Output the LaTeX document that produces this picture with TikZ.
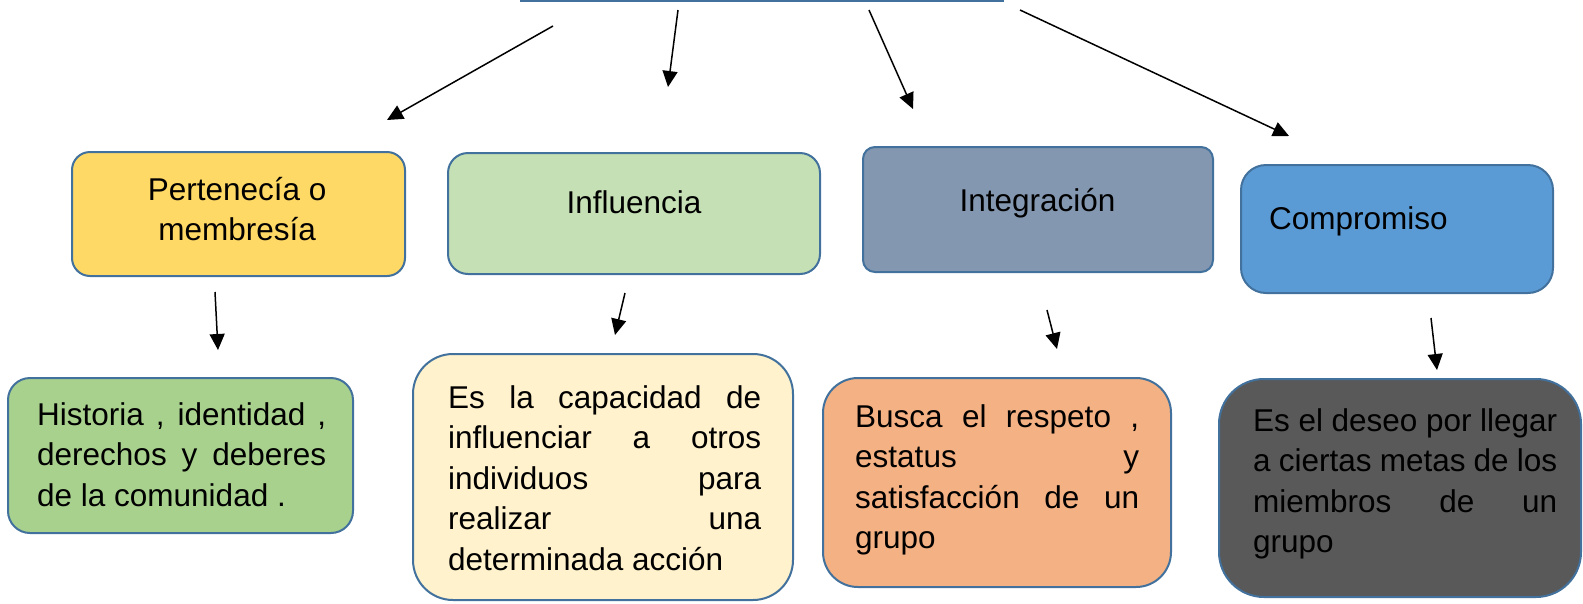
\documentclass[tikz,border=0pt]{standalone}
\usepackage{fontspec}
\setmainfont{Liberation Sans}
\usetikzlibrary{arrows.meta}
\definecolor{bordc}{HTML}{41719C}
\definecolor{cA}{HTML}{FFD966}
\definecolor{cB}{HTML}{C5E0B4}
\definecolor{cC}{HTML}{8497B0}
\definecolor{cD}{HTML}{5B9BD5}
\definecolor{cE}{HTML}{A9D18E}
\definecolor{cF}{HTML}{FFF2CC}
\definecolor{cG}{HTML}{F4B183}
\definecolor{cH}{HTML}{595959}
\newcommand{\jl}[1]{\makebox[\linewidth][s]{#1}}
\tikzset{
  box/.style={draw=bordc, line width=2pt, inner sep=0pt},
  conn/.style={-{Triangle[length=16pt,width=15pt]}, line width=1.5pt, black},
  txt/.style={inner sep=0pt, anchor=base west, font=\fontsize{31.5}{40.5}\selectfont},
  ctxt/.style={inner sep=0pt, anchor=base, font=\fontsize{31.5}{38}\selectfont},
}
\begin{document}
\begin{tikzpicture}[x=1pt,y=-1pt]
\useasboundingbox (0,0) rectangle (1583,603);
% top partial box edge
\coordinate (tl) at (520,1);
\coordinate (tr) at (1004,1);
\draw[bordc, line width=2pt] (tl) -- (tr);
% top row boxes
\node[box, fill=cA, rounded corners=18pt, minimum width=333pt, minimum height=124pt] (A) at (238.5,214) {};
\node[box, fill=cB, rounded corners=20pt, minimum width=372pt, minimum height=121pt] (B) at (634,213.5) {};
\node[box, fill=cC, rounded corners=12pt, minimum width=350pt, minimum height=125pt] (C) at (1038,209.5) {};
\node[box, fill=cD, rounded corners=25pt, minimum width=312pt, minimum height=128pt] (D) at (1397,229) {};
% bottom row boxes
\node[box, fill=cE, rounded corners=22pt, minimum width=345pt, minimum height=155pt] (E) at (180.5,455.5) {};
\node[box, fill=cF, rounded corners=40pt, minimum width=380pt, minimum height=246pt] (F) at (603,477) {};
\node[box, fill=cG, rounded corners=35pt, minimum width=348pt, minimum height=209pt] (G) at (997,482.5) {};
\node[box, fill=cH, rounded corners=45pt, minimum width=362pt, minimum height=218pt] (H) at (1400,488) {};
% texts
\node[txt] (tA) at (87,200) {\parbox[t]{300pt}{\centering Pertenecía o\\membresía}};
\node[ctxt] (tB) at (634,213) {Influencia};
\node[ctxt] (tC) at (1037.5,211) {Integración};
\node[txt] (tD) at (1269,229) {Compromiso};
\node[txt] (tE) at (37,425) {\parbox[t]{289pt}{\jl{Historia , identidad ,}\\\jl{derechos y deberes}\\de la comunidad .}};
\node[txt] (tF) at (448,408) {\parbox[t]{313pt}{\jl{Es la capacidad de}\\\jl{influenciar a otros}\\\jl{individuos para}\\\jl{realizar una}\\determinada acción}};
\node[txt] (tG) at (855,427) {\parbox[t]{284pt}{\jl{Busca el respeto ,}\\\jl{estatus y}\\\jl{satisfacción de un}\\grupo}};
\node[txt] (tH) at (1253,431) {\parbox[t]{304pt}{\jl{Es el deseo por llegar}\\\jl{a ciertas metas de los}\\\jl{miembros de un}\\grupo}};
% arrows
\coordinate (s1) at (553,26);   \coordinate (e1) at (387,120);
\coordinate (s2) at (678,10);   \coordinate (e2) at (668,87);
\coordinate (s3) at (869,10);   \coordinate (e3) at (913,109);
\coordinate (s4) at (1020,10);  \coordinate (e4) at (1289,136);
\coordinate (s5) at (215,292);  \coordinate (e5) at (218,350);
\coordinate (s6) at (625,293);  \coordinate (e6) at (615,335);
\coordinate (s7) at (1047,310); \coordinate (e7) at (1057,349);
\coordinate (s8) at (1431,318); \coordinate (e8) at (1437,370);
\foreach \i in {1,...,8} { \draw[conn] (s\i) -- (e\i); }
\end{tikzpicture}
\end{document}
